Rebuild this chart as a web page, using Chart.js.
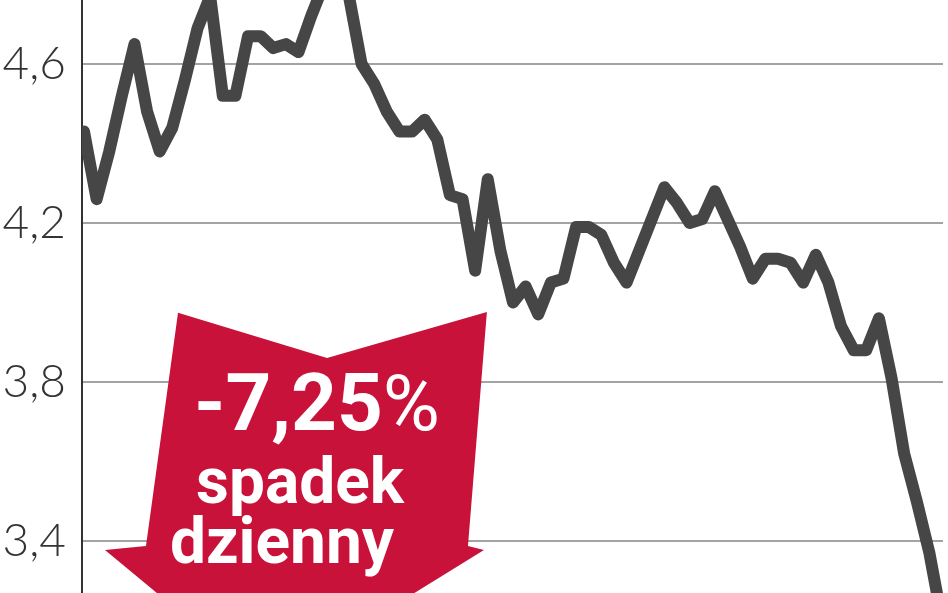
<!DOCTYPE html>
<html>
<head>
<meta charset="utf-8">
<script src="https://cdn.jsdelivr.net/npm/chart.js@4.4.1/dist/chart.umd.min.js"></script>
<style>
  body { margin: 0; background: #fff; }
  #wrap { width: 948px; height: 593px; position: relative; }
</style>
</head>
<body>
<div id="wrap"><canvas id="lineChart"></canvas></div>
<script>
// kurs akcji - notowania dzienne
const prices = [
  4.43, 4.26, 4.38, 4.52, 4.65, 4.48, 4.38, 4.44, 4.56, 4.69,
  4.77, 4.52, 4.52, 4.67, 4.67, 4.64, 4.65, 4.63, 4.72, 4.80,
  4.81, 4.77, 4.60, 4.55, 4.48, 4.43, 4.43, 4.46, 4.41, 4.27,
  4.26, 4.08, 4.31, 4.13, 4.00, 4.04, 3.97, 4.05, 4.06, 4.19,
  4.19, 4.17, 4.10, 4.05, 4.13, 4.21, 4.29, 4.25, 4.20, 4.21,
  4.28, 4.21, 4.14, 4.06, 4.11, 4.11, 4.10, 4.05, 4.12, 4.05,
  3.94, 3.88, 3.88, 3.96, 3.81, 3.62, 3.50, 3.37, 3.20
]
const days = prices.map((p, i) => i)
const yTicks = [3.4, 3.8, 4.2, 4.6]

// strzalka z opisem spadku
const badgeLines = ['-7,25', 'spadek', 'dzienny']
const badgePct = '%'

const points = days.map((d, i) => ({ x: d, y: prices[i] }))

// arrow outline in chart units (day index, price)
const arrowShape = [
  [7.45, 3.974], [19.26, 3.860], [31.93, 3.976], [30.43, 3.387],
  [31.70, 3.377], [14.50, 3.040], [1.66, 3.377], [4.91, 3.387]
]
const textAnchors = [[18.46, 3.679], [17.12, 3.496], [15.69, 3.345]]

const arrowPlugin = {
  id: 'arrow',
  beforeDatasetsDraw(chart) {
    const ctx = chart.ctx
    const xs = chart.scales.x
    const ys = chart.scales.y
    ctx.save()
    ctx.beginPath()
    arrowShape.forEach((p, i) => {
      const px = xs.getPixelForValue(p[0])
      const py = ys.getPixelForValue(p[1])
      if (i == 0) ctx.moveTo(px, py)
      else ctx.lineTo(px, py)
    })
    ctx.closePath()
    ctx.fillStyle = '#c8123a'
    ctx.fill()

    ctx.fillStyle = '#fff'
    ctx.textBaseline = 'alphabetic'

    // first line: bold number + lighter percent sign
    let cx = xs.getPixelForValue(textAnchors[0][0])
    let cy = ys.getPixelForValue(textAnchors[0][1])
    ctx.font = 'bold 80px Roboto'
    const w1 = ctx.measureText(badgeLines[0]).width
    ctx.font = '400 78px Roboto'
    const w2 = ctx.measureText(badgePct).width
    let left = cx - (w1 + w2) / 2
    ctx.textAlign = 'left'
    ctx.font = 'bold 80px Roboto'
    ctx.fillText(badgeLines[0], left, cy)
    ctx.font = '400 78px Roboto'
    ctx.fillText(badgePct, left + w1, cy)

    ctx.textAlign = 'center'
    ctx.font = 'bold 64px Roboto'
    for (let i = 1; i < 3; i++) {
      cx = xs.getPixelForValue(textAnchors[i][0])
      cy = ys.getPixelForValue(textAnchors[i][1])
      ctx.fillText(badgeLines[i], cx, cy)
    }
    ctx.restore()
  }
}

const chart = document.getElementById('lineChart')

let lineChart = new Chart(chart, {
  type: 'line',
  data: {
    datasets: [
      {
        data: points,
        borderColor: '#464646',
        borderWidth: 12,
        borderJoinStyle: 'round',
        borderCapStyle: 'round',
        pointRadius: 0,
        tension: 0,
        fill: false
      }
    ]
  },
  options: {
    responsive: true,
    maintainAspectRatio: false,
    animation: false,
    layout: { padding: { top: 0, bottom: 0, left: 0, right: 5 } },
    plugins: {
      legend: { display: false },
      tooltip: { enabled: false }
    },
    scales: {
      x: {
        type: 'linear',
        display: false,
        min: -0.16,
        max: 68.08
      },
      y: {
        min: 3.269,
        max: 4.761,
        afterBuildTicks: (scale) => {
          scale.ticks = yTicks.map(v => ({ value: v }))
        },
        afterFit: (scale) => {
          // no room kept for half labels at the ends
          scale.width = 82
          scale.paddingTop = 0
          scale.paddingBottom = 0
        },
        border: { display: true, color: '#333', width: 2 },
        grid: {
          color: '#a3a3a3',
          lineWidth: 2,
          drawTicks: false
        },
        ticks: {
          padding: 16,
          color: '#333',
          font: { family: 'Lato', weight: '300', size: 46 },
          callback: (v) => v.toFixed(1).replace('.', ',')
        }
      }
    }
  },
  plugins: [arrowPlugin]
})
</script>
</body>
</html>
